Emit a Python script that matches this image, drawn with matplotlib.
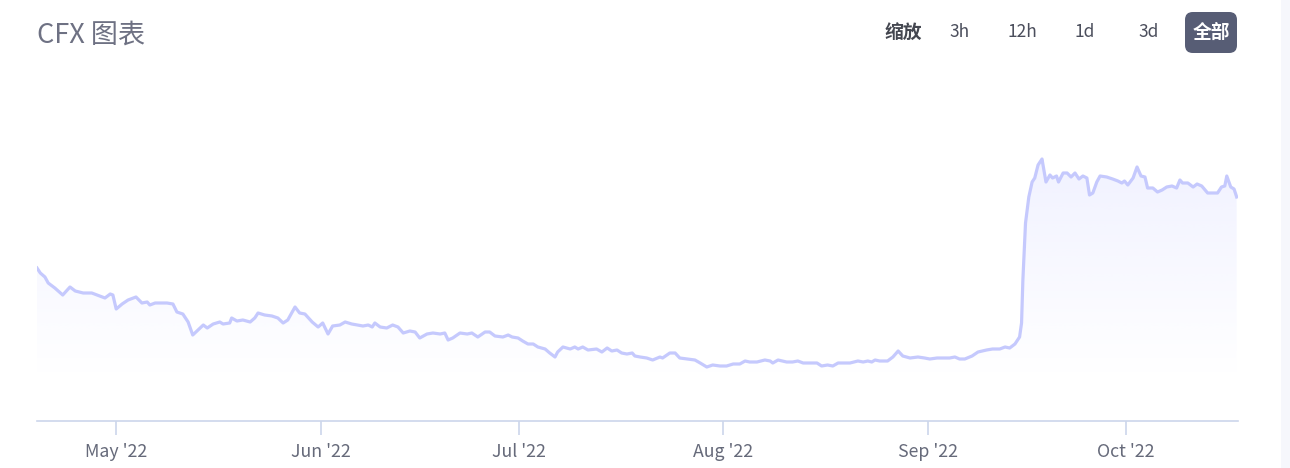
import numpy as np
import pandas as pd
import matplotlib
matplotlib.use("Agg")
import matplotlib.pyplot as plt
import matplotlib.dates as mdates
from matplotlib.patches import FancyBboxPatch, Rectangle

plt.rcParams['font.family'] = ['Noto Sans CJK SC', 'DejaVu Sans']

# data: days after 2022-04-19 and price
start = pd.Timestamp("2022-04-19")
days = [0.0, 0.5, 1.2, 1.7, 2.7, 3.9, 5.0, 5.8, 7.0, 8.3, 9.5, 10.3, 11.1, 11.5,
        12.0, 12.9, 13.8, 15.0, 15.9, 16.7, 17.1, 17.9, 18.6, 19.7, 20.6, 21.2,
        22.1, 22.9, 23.6, 24.4, 25.2, 25.8, 26.7, 27.7, 28.2, 29.2, 29.5, 30.3,
        31.2, 32.3, 33.0, 33.5, 34.5, 35.6, 36.5, 37.3, 38.0, 39.1, 39.8, 40.6,
        41.7, 42.6, 43.3, 44.1, 44.8, 45.9, 46.7, 47.7, 48.6, 49.4, 50.2, 50.8,
        51.2, 52.0, 53.0, 53.9, 54.7, 55.5, 56.5, 57.3, 58.0, 59.1, 60.0, 61.1,
        61.8, 62.3, 63.0, 64.1, 65.2, 65.9, 66.8, 67.9, 68.6, 69.4, 70.6, 71.4,
        72.0, 72.9, 73.6, 74.4, 75.2, 75.9, 77.0, 77.7, 78.5, 78.9, 79.7, 80.8,
        81.5, 82.0, 82.7, 83.5, 84.8, 85.6, 86.4, 87.1, 87.9, 88.6, 89.4, 90.2,
        90.6, 91.4, 92.4, 93.3, 94.4, 94.8, 95.9, 96.7, 97.4, 98.6, 99.7, 100.5,
        101.5, 102.4, 103.5, 104.5, 105.5, 106.5, 107.3, 108.0, 109.1, 110.3,
        111.1, 111.5, 112.3, 113.6, 114.5, 115.3, 116.1, 117.1, 118.2, 118.9,
        119.8, 120.6, 121.4, 122.0, 123.2, 124.4, 125.2, 125.9, 126.5, 127.0,
        127.7, 128.9, 129.7, 130.5, 131.2, 132.3, 133.5, 134.5, 135.3, 136.4,
        137.6, 138.3, 139.1, 139.8, 140.6, 141.7, 142.6, 143.9, 144.8, 145.9,
        146.7, 147.4, 148.2, 148.9, 149.2, 149.4, 149.8, 150.3, 150.8, 151.2,
        151.7, 152.3, 152.4, 152.9, 153.5, 153.9, 154.5, 154.8, 155.5, 156.1,
        156.7, 157.3, 157.9, 158.5, 159.1, 159.5, 160.0, 160.6, 161.1, 162.1,
        163.0, 163.8, 164.4, 164.8, 165.3, 166.1, 166.7, 167.3, 167.9, 168.3,
        169.1, 169.8, 170.5, 171.2, 172.0, 172.7, 173.2, 173.6, 174.4, 175.2,
        175.8, 176.5, 177.4, 178.2, 178.9, 179.5, 180.0, 180.3, 180.9, 181.4,
        181.8]
price = [0.153, 0.148, 0.144, 0.138, 0.133, 0.126, 0.134, 0.130, 0.128, 0.128,
         0.125, 0.123, 0.127, 0.126, 0.112, 0.117, 0.121, 0.124, 0.118, 0.119,
         0.116, 0.118, 0.118, 0.118, 0.117, 0.109, 0.107, 0.099, 0.086, 0.091,
         0.096, 0.093, 0.097, 0.099, 0.097, 0.098, 0.103, 0.100, 0.101, 0.099,
         0.103, 0.108, 0.106, 0.105, 0.103, 0.098, 0.101, 0.114, 0.108, 0.107,
         0.099, 0.094, 0.098, 0.087, 0.095, 0.096, 0.099, 0.097, 0.096, 0.095,
         0.096, 0.094, 0.098, 0.094, 0.093, 0.096, 0.094, 0.088, 0.090, 0.089,
         0.083, 0.087, 0.088, 0.087, 0.088, 0.081, 0.083, 0.088, 0.087, 0.088,
         0.084, 0.089, 0.089, 0.085, 0.084, 0.086, 0.084, 0.083, 0.080, 0.077,
         0.077, 0.074, 0.072, 0.068, 0.064, 0.069, 0.074, 0.072, 0.074, 0.072,
         0.074, 0.071, 0.072, 0.069, 0.073, 0.070, 0.071, 0.068, 0.067, 0.068,
         0.065, 0.064, 0.063, 0.061, 0.064, 0.063, 0.068, 0.068, 0.063, 0.062,
         0.061, 0.058, 0.054, 0.056, 0.055, 0.055, 0.057, 0.057, 0.060, 0.059,
         0.059, 0.061, 0.060, 0.058, 0.061, 0.059, 0.059, 0.060, 0.058, 0.058,
         0.058, 0.055, 0.056, 0.055, 0.058, 0.058, 0.058, 0.060, 0.059, 0.060,
         0.059, 0.061, 0.060, 0.060, 0.064, 0.070, 0.065, 0.063, 0.064, 0.063,
         0.062, 0.063, 0.063, 0.063, 0.064, 0.062, 0.062, 0.065, 0.069, 0.071,
         0.072, 0.072, 0.074, 0.073, 0.077, 0.084, 0.098, 0.141, 0.198, 0.224,
         0.239, 0.243, 0.256, 0.262, 0.258, 0.239, 0.246, 0.243, 0.245, 0.239,
         0.248, 0.248, 0.244, 0.248, 0.242, 0.245, 0.243, 0.226, 0.228, 0.239,
         0.245, 0.244, 0.242, 0.240, 0.238, 0.240, 0.236, 0.243, 0.254, 0.245,
         0.244, 0.233, 0.233, 0.229, 0.231, 0.234, 0.235, 0.233, 0.241, 0.238,
         0.238, 0.234, 0.237, 0.235, 0.228, 0.228, 0.228, 0.234, 0.235, 0.245,
         0.234, 0.232, 0.224]

df = pd.DataFrame({"date": start + pd.to_timedelta(days, unit="D"), "price": price})

line_color = "#c5c9fd"
fig = plt.figure(figsize=(12.9, 4.68), dpi=100)
ax = fig.add_axes([37 / 1290, 47 / 468, 1201 / 1290, 351 / 468])

x = mdates.date2num(df["date"])
y = df["price"].values
x0 = mdates.date2num(start)
x1 = mdates.date2num(start + pd.Timedelta(days=182))
ymax = 0.351

# gradient fill under the line
poly = ax.fill_between(x, y, 0, color="none", lw=0)
grad = np.zeros((256, 2, 4))
grad[:, :, 0] = 197 / 255
grad[:, :, 1] = 201 / 255
grad[:, :, 2] = 1.0
alpha = np.clip(np.linspace(0.34, -0.05, 256), 0, None)
grad[:, :, 3] = alpha[:, None]
im = ax.imshow(grad, extent=[x0, x1, 0, ymax], origin="upper", aspect="auto",
               zorder=1, interpolation="bilinear")
im.set_clip_path(poly.get_paths()[0], transform=ax.transData)

ax.plot(x, y, color=line_color, lw=2.3, zorder=3, solid_joinstyle="round")

ax.set_xlim(x0, x1)
ax.set_ylim(0, ymax)
for s in ["top", "right", "left"]:
    ax.spines[s].set_visible(False)
ax.spines["bottom"].set_color("#ccd6eb")
ax.spines["bottom"].set_linewidth(1.2)
ax.set_yticks([])
ax.xaxis.set_major_locator(mdates.MonthLocator())
ax.xaxis.set_major_formatter(mdates.DateFormatter("%b '%y"))
ax.tick_params(axis="x", length=10, width=1.2, color="#ccd6eb",
               labelsize=12.8, labelcolor="#666a7a", pad=6)

# title and range buttons
fig.text(37 / 1290, 1 - 35 / 468, "CFX 图表", fontsize=19.5, color="#6e7183",
         va="center", ha="left")
fig.text(903 / 1290, 1 - 32 / 468, "缩放", fontsize=13.5, color="#444750",
         fontweight="bold", va="center", ha="center")
for lbl, cx in [("3h", 960), ("12h", 1022), ("1d", 1085), ("3d", 1149)]:
    fig.text(cx / 1290, 1 - 32 / 468, lbl, fontsize=12.5, color="#4b4e5c",
             va="center", ha="center")
btn = FancyBboxPatch((1185 / 1290, 1 - 53 / 468), 52 / 1290, 41 / 468,
                     boxstyle="round,pad=0,rounding_size=0.006",
                     transform=fig.transFigure, facecolor="#575d75",
                     edgecolor="none", mutation_aspect=1290 / 468)
fig.patches.append(btn)
fig.text(1211 / 1290, 1 - 32 / 468, "全部", fontsize=13.5, color="white",
         fontweight="bold", va="center", ha="center")

# light strip at the right edge
fig.patches.append(Rectangle((1281 / 1290, 0), 9 / 1290, 1, transform=fig.transFigure,
                             facecolor="#f6f7fc", edgecolor="none"))

fig.savefig("out.png", dpi=100)
